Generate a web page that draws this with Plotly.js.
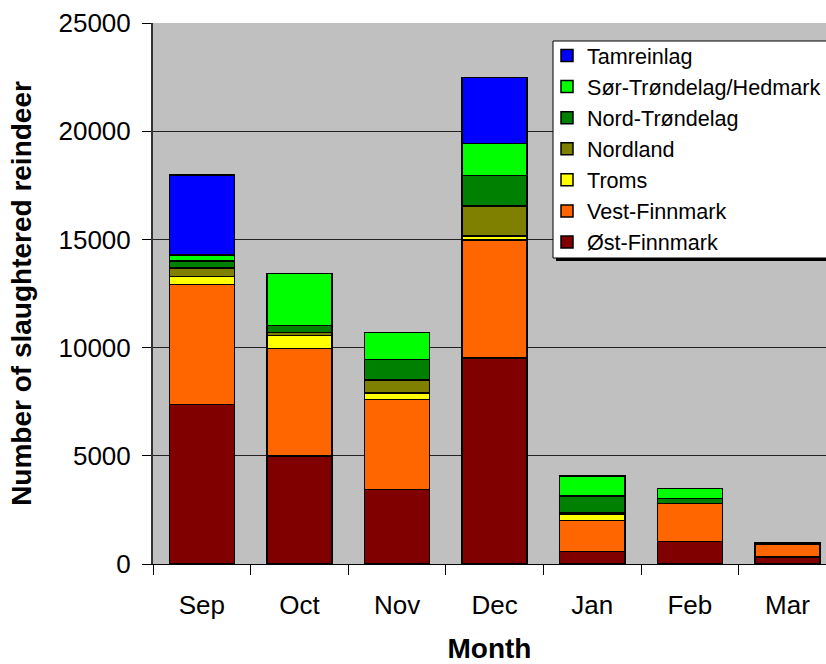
<!DOCTYPE html>
<html>
<head>
<meta charset="utf-8">
<script src="https://cdn.plot.ly/plotly-3.0.1.min.js"></script>
<style>html,body{margin:0;padding:0;background:#fff;}#chart{width:826px;height:664px;}</style>
</head>
<body>
<div id="chart"></div>
<script>
const months = ["Sep", "Oct", "Nov", "Dec", "Jan", "Feb", "Mar"];
const ostFinnmark   = [7380, 5000, 3450, 9520, 580, 1030, 320];
const vestFinnmark  = [5540, 4950, 4150, 5450, 1430, 1760, 600];
const troms         = [370, 620, 300, 185, 290, null, null];
const nordland      = [400, 120, 610, 1400, 80, null, null];
const nordTrondelag = [310, 340, 950, 1400, 770, 230, 40];
const sorTrondelag  = [280, 2390, 1240, 1480, 920, 475, 40];
const tamreinlag    = [3700, null, null, 3050, null, null, null];

const seriesNames = ["Øst-Finnmark", "Vest-Finnmark", "Troms", "Nordland", "Nord-Trøndelag", "Sør-Trøndelag/Hedmark", "Tamreinlag"];
const seriesValues = [ostFinnmark, vestFinnmark, troms, nordland, nordTrondelag, sorTrondelag, tamreinlag];
const seriesColors = ["#800000", "#FF6600", "#FFFF00", "#808000", "#008000", "#00FF00", "#0000FF"];

const FONT = "Liberation Sans, Arial, sans-serif";

const traces = seriesNames.map((name, i) => ({
  type: "bar",
  name: name,
  x: months,
  y: seriesValues[i],
  marker: { color: seriesColors[i], line: { color: "#000000", width: 1.5 } },
  hoverinfo: "x+y+name"
}));

const W = 826, H = 664, L = 153, R = 0, T = 23, B = 100;
const pw = W - L - R, ph = H - T - B;
const px = v => (v - L) / pw;
const py = v => (H - B - v) / ph;

const layout = {
  width: W, height: H,
  margin: { l: L, r: R, t: T, b: B, pad: 0 },
  paper_bgcolor: "#ffffff",
  plot_bgcolor: "#C0C0C0",
  barmode: "stack",
  bargap: 0.333,
  font: { family: FONT, color: "#000000", size: 22 },
  showlegend: true,
  legend: {
    x: 1, y: py(35), xanchor: "right", yanchor: "top",
    bgcolor: "rgba(0,0,0,0)", borderwidth: 0,
    traceorder: "reversed",
    font: { family: FONT, size: 21.6, color: "#000" }
  },
  xaxis: {
    type: "category",
    range: [-0.5, 6.395],
    tickson: "boundaries",
    ticks: "outside", ticklen: 10, tickcolor: "#000", tickwidth: 1,
    ticklabelstandoff: 18,
    showline: true, linecolor: "#000", linewidth: 1,
    showgrid: false, zeroline: false,
    tickfont: { family: FONT, size: 26, color: "#000" },
    title: { text: "<b>Month</b>", font: { family: FONT, size: 28, color: "#000" }, standoff: 24 }
  },
  yaxis: {
    range: [0, 25000],
    dtick: 5000,
    tickformat: "d",
    ticks: "outside", ticklen: 9, tickcolor: "#000", tickwidth: 1,
    ticklabelstandoff: 6,
    showline: true, linecolor: "#333", linewidth: 2,
    showgrid: true, gridcolor: "#222", gridwidth: 1,
    zeroline: false,
    tickfont: { family: FONT, size: 26, color: "#000" },
    title: { text: "<b>Number of slaughtered reindeer</b>", font: { family: FONT, size: 28, color: "#000" }, standoff: 19 }
  },
  shapes: [
    { type: "rect", xref: "paper", yref: "paper", x0: px(556), x1: px(832), y0: py(261), y1: py(44),
      fillcolor: "#000", line: { width: 0 }, layer: "above" },
    { type: "rect", xref: "paper", yref: "paper", x0: px(553), x1: px(829), y0: py(258), y1: py(41),
      fillcolor: "#fff", line: { color: "#000", width: 1 }, layer: "above" }
  ]
};

Plotly.newPlot("chart", traces, layout, { displayModeBar: false, staticPlot: true });
</script>
</body>
</html>
